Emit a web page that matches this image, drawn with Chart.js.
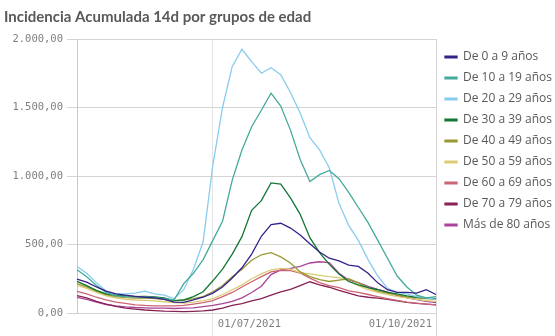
<!DOCTYPE html>
<html>
<head>
<meta charset="utf-8">
<script src="https://cdn.jsdelivr.net/npm/chart.js@4/dist/chart.umd.min.js"></script>
<style>
  html, body { margin: 0; padding: 0; background: #fff; }
</style>
</head>
<body>
<canvas id="edadChart" width="555" height="336"></canvas>
<script>
// fechas cada 4 dias, del 06/05/2021 al 01/10/2021
const fechas = [
    '06/05/2021', '10/05/2021', '14/05/2021', '18/05/2021', '22/05/2021', '26/05/2021', '30/05/2021',
    '03/06/2021', '07/06/2021', '11/06/2021', '15/06/2021', '19/06/2021', '23/06/2021', '27/06/2021',
    '01/07/2021', '05/07/2021', '09/07/2021', '13/07/2021', '17/07/2021', '21/07/2021', '25/07/2021', '29/07/2021',
    '02/08/2021', '06/08/2021', '10/08/2021', '14/08/2021', '18/08/2021', '22/08/2021', '26/08/2021', '30/08/2021',
    '03/09/2021', '07/09/2021', '11/09/2021', '15/09/2021', '19/09/2021', '23/09/2021', '27/09/2021',
    '01/10/2021'
];
const ejeFechas = ['01/07/2021', '01/10/2021'];

const grupos = [
    'De 0 a 9 años', 'De 10 a 19 años', 'De 20 a 29 años', 'De 30 a 39 años', 'De 40 a 49 años',
    'De 50 a 59 años', 'De 60 a 69 años', 'De 70 a 79 años', 'Más de 80 años'
];
const colores = ['#332288', '#44aa99', '#88ccee', '#117733', '#999933', '#ddcc77', '#cc6677', '#882255', '#aa4499'];

const edad0a9 = [248, 225, 190, 160, 140, 130, 122, 115, 110, 100, 80, 78, 95, 115, 145, 190, 255, 330, 430, 560, 645, 655, 620, 570, 505, 445, 400, 380, 350, 340, 290, 220, 170, 150, 150, 145, 170, 135];
const edad10a19 = [316, 265, 200, 150, 125, 120, 118, 120, 112, 105, 95, 215, 290, 390, 530, 670, 970, 1190, 1360, 1480, 1605, 1510, 1335, 1120, 960, 1010, 1040, 980, 880, 770, 660, 530, 400, 270, 190, 130, 110, 120];
const edad20a29 = [340, 290, 220, 160, 140, 140, 145, 160, 140, 130, 105, 170, 320, 520, 1080, 1500, 1800, 1925, 1835, 1750, 1790, 1740, 1610, 1460, 1280, 1190, 1060, 800, 640, 530, 390, 270, 180, 150, 140, 120, 110, 100];
const edad30a39 = [231, 200, 165, 140, 130, 125, 120, 122, 118, 110, 90, 95, 120, 155, 235, 320, 430, 557, 750, 820, 950, 940, 840, 720, 550, 440, 355, 285, 230, 205, 185, 170, 150, 140, 125, 115, 110, 105];
const edad40a49 = [214, 190, 160, 135, 120, 112, 108, 110, 105, 100, 88, 95, 105, 120, 155, 200, 265, 320, 385, 425, 440, 410, 365, 300, 265, 243, 230, 240, 250, 220, 185, 160, 145, 130, 118, 110, 105, 100];
const edad50a59 = [202, 180, 150, 125, 110, 100, 95, 92, 88, 82, 75, 72, 80, 90, 105, 135, 170, 205, 250, 285, 315, 325, 320, 295, 285, 275, 265, 258, 235, 200, 170, 150, 135, 120, 110, 100, 90, 85];
const edad60a69 = [158, 140, 115, 95, 80, 70, 60, 55, 52, 52, 52, 55, 65, 75, 90, 120, 150, 190, 228, 265, 300, 312, 310, 292, 255, 222, 200, 185, 162, 150, 135, 120, 105, 92, 80, 72, 65, 60];
const edad70a79 = [126, 110, 85, 65, 48, 35, 28, 22, 18, 14, 12, 10, 12, 15, 22, 35, 55, 68, 88, 105, 130, 155, 172, 200, 228, 205, 188, 165, 145, 125, 115, 108, 100, 88, 78, 70, 65, 60];
const edad80mas = [114, 100, 80, 62, 52, 45, 40, 38, 35, 35, 33, 35, 38, 46, 55, 68, 85, 110, 150, 195, 280, 315, 325, 340, 365, 374, 368, 290, 240, 222, 195, 172, 155, 128, 112, 98, 85, 75];

const series = [edad0a9, edad10a19, edad20a29, edad30a39, edad40a49, edad50a59, edad60a69, edad70a79, edad80mas];

function formatoES(v) {
    const partes = Number(v).toFixed(2).split('.');
    partes[0] = partes[0].replace(/\B(?=(\d{3})+(?!\d))/g, '.');
    return partes.join(',');
}

// etiquetas del eje x a la derecha de su linea, como en el original
const etiquetasFechas = {
    id: 'etiquetasFechas',
    afterDraw(chart) {
        const ctx = chart.ctx;
        const area = chart.chartArea;
        const x = chart.scales.x;
        ctx.save();
        ctx.font = '10.5px "DejaVu Sans Mono"';
        ctx.fillStyle = '#7f7f7f';
        ctx.textBaseline = 'middle';
        ejeFechas.forEach(f => {
            const px = x.getPixelForValue(fechas.indexOf(f));
            const w = ctx.measureText(f).width;
            if (px + 5 + w > area.right) {
                ctx.textAlign = 'right';
                ctx.fillText(f, px - 4, area.bottom + 11);
            } else {
                ctx.textAlign = 'left';
                ctx.fillText(f, px + 5, area.bottom + 11);
            }
        });
        ctx.restore();
    }
};

const data = {
    labels: fechas,
    datasets: grupos.map((g, i) => ({
        label: g,
        data: series[i],
        borderColor: colores[i],
        backgroundColor: colores[i],
        borderWidth: 1.3,
        pointRadius: 0,
        tension: 0,
        fill: false
    }))
};

const config = {
    type: 'line',
    data: data,
    options: {
        responsive: false,
        animation: false,
        layout: { padding: { left: 4, right: 0, top: 0, bottom: 0 } },
        plugins: {
            title: {
                display: true,
                text: 'Incidencia Acumulada 14d por grupos de edad',
                align: 'start',
                color: '#595959',
                font: { family: 'Lato', size: 15, weight: 'bold' },
                padding: { top: 8, bottom: 13 }
            },
            legend: {
                position: 'right',
                align: 'start',
                fullSize: false,
                maxWidth: 119,
                title: { display: true, text: '', padding: 0, font: { size: 3, lineHeight: 1 } },
                labels: {
                    boxWidth: 12,
                    boxHeight: 1.5,
                    padding: 9,
                    color: '#595959',
                    font: { family: '"Open Sans"', size: 12 }
                }
            },
            tooltip: { enabled: false }
        },
        scales: {
            x: {
                ticks: {
                    autoSkip: false,
                    maxRotation: 0,
                    callback: () => ''
                },
                grid: {
                    tickLength: 23,
                    color: ctx => {
                        const f = fechas[ctx.index];
                        if (f === ejeFechas[0]) return '#e3e3e3';
                        if (f === ejeFechas[1]) return '#d4d4d4';
                        return 'rgba(0,0,0,0)';
                    }
                },
                border: { display: false },
                afterFit: scale => { scale.height = 23; }
            },
            y: {
                min: 0,
                max: 2000,
                ticks: {
                    stepSize: 500,
                    padding: 4,
                    color: '#7f7f7f',
                    font: { family: '"DejaVu Sans Mono"', size: 10.5 },
                    callback: v => formatoES(v)
                },
                grid: { color: '#d4d4d4', tickLength: 10 },
                border: { display: true, color: '#c8c8c8' },
                afterFit: scale => { scale.width = 73; }
            }
        }
    },
    plugins: [etiquetasFechas]
};

const myChart = new Chart(document.getElementById('edadChart'), config);
</script>
</body>
</html>
